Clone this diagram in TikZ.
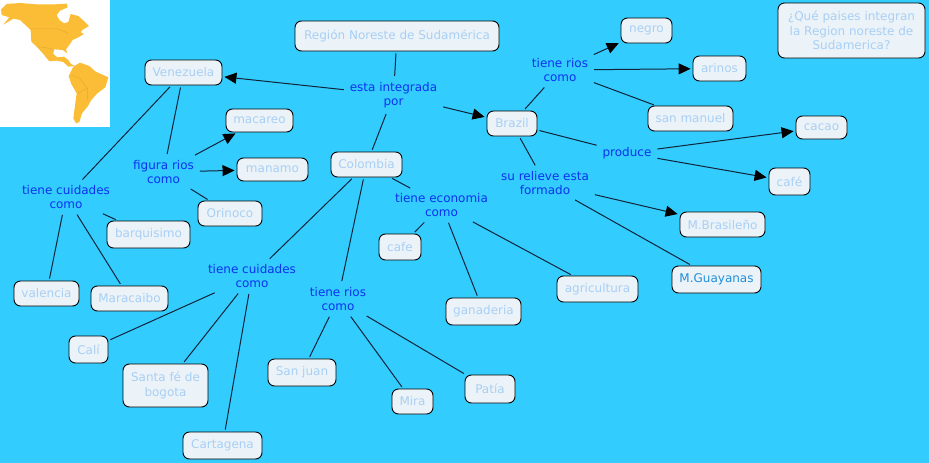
\documentclass[tikz,border=0pt]{standalone}
\usepackage{fontspec}
\setmainfont{DejaVu Sans}
\usetikzlibrary{arrows.meta}
\definecolor{bgblue}{HTML}{33CCFF}
\definecolor{boxfill}{HTML}{EBF3F8}
\definecolor{boxtext}{HTML}{A8CFF5}
\definecolor{linktext}{HTML}{0A32F0}
\definecolor{mapgold}{HTML}{FBBD35}
\definecolor{mapline}{HTML}{E3AA33}
\definecolor{lineblue}{HTML}{10243A}
\definecolor{guayanatext}{HTML}{1F8FDC}
\begin{document}
\begin{tikzpicture}[
    x=1pt, y=-1pt,
    concept/.style={draw=black, line width=0.9pt, rounded corners=6.5pt, fill=boxfill, text=boxtext, align=center, inner sep=0pt, font=\fontsize{12}{14.6}\selectfont},
    linkword/.style={align=center, text=linktext, inner sep=1pt, outer sep=3pt, font=\fontsize{12}{14.6}\selectfont},
    plain/.style={draw=lineblue, line width=1pt, shorten <=2pt, shorten >=2pt},
    arrow/.style={plain, -{Triangle[length=12pt, width=11pt, color=black, fill=black]}}
]
\useasboundingbox (0,0) rectangle (929,463);
\fill[bgblue] (0,0) rectangle (929,463);

% map
\fill[white] (0,0) rectangle (110,127);
\begin{scope}[x=0.3333pt, y=-0.3333pt]
\fill[mapgold] (3,28) -- (12,20) -- (20,12) -- (60,9) -- (110,13) -- (165,13) -- (200,11) -- (203,22) -- (180,32) -- (170,45) -- (178,60) -- (192,70) -- (205,66) -- (212,42) -- (235,48) -- (255,66) -- (267,78) -- (247,90) -- (242,97) -- (252,102) -- (235,112) -- (218,120) -- (208,135) -- (198,148) -- (202,160) -- (188,150) -- (162,148) -- (160,162) -- (172,172) -- (192,170) -- (205,180) -- (213,192) -- (224,198) -- (205,200) -- (190,186) -- (170,182) -- (148,184) -- (130,162) -- (112,142) -- (94,125) -- (92,90) -- (60,60) -- (40,56) -- (10,74) -- (28,52) -- (5,45) -- cycle;
\fill[mapgold] (206,228) -- (220,200) -- (240,188) -- (268,198) -- (287,215) -- (325,232) -- (316,262) -- (292,280) -- (274,300) -- (264,318) -- (246,340) -- (238,366) -- (228,370) -- (220,355) -- (226,310) -- (230,280) -- (214,252) -- cycle;
\draw[mapline, line width=0.5pt] (94,87) -- (175,87) -- (205,100);
\draw[mapline, line width=0.5pt] (115,140) -- (150,145) -- (160,150);
\draw[mapline, line width=0.5pt] (215,225) -- (240,235) -- (262,265) -- (262,300);
\draw[mapline, line width=0.5pt] (232,280) -- (262,265);
\end{scope}

% concepts
\node[concept, minimum width=204pt, minimum height=30pt] (region) at (397,36) {Región Noreste de Sudamérica};
\node[concept, minimum width=77pt, minimum height=25pt] (venezuela) at (183.5,72.5) {Venezuela};
\node[concept, minimum width=71pt, minimum height=25pt] (colombia) at (366.5,164.5) {Colombia};
\node[concept, minimum width=50pt, minimum height=25pt] (brazil) at (512,123.5) {Brazil};
\node[concept, minimum width=147pt, minimum height=55pt] (pregunta) at (851.5,30.5) {¿Qué paises integran\\la Region noreste de\\Sudamerica?};

\node[concept, minimum width=67pt, minimum height=23pt] (macareo) at (259.5,120.5) {macareo};
\node[concept, minimum width=71pt, minimum height=23pt] (manamo) at (272.5,169.5) {manamo};
\node[concept, minimum width=64pt, minimum height=25pt] (orinoco) at (230,213.5) {Orinoco};
\node[concept, minimum width=83pt, minimum height=27pt] (barquisimo) at (148.5,234.5) {barquisimo};
\node[concept, minimum width=65pt, minimum height=25pt] (valencia) at (46.5,293.5) {valencia};
\node[concept, minimum width=77pt, minimum height=25pt] (maracaibo) at (129.5,298.5) {Maracaibo};

\node[concept, minimum width=39pt, minimum height=27pt] (cali) at (88.5,349.5) {Calí};
\node[concept, minimum width=85pt, minimum height=43pt] (santafe) at (165.5,385.5) {Santa fé de\\bogota};
\node[concept, minimum width=79pt, minimum height=27pt] (cartagena) at (222.5,445.5) {Cartagena};
\node[concept, minimum width=68pt, minimum height=27pt] (sanjuan) at (302,372.5) {San juan};
\node[concept, minimum width=41pt, minimum height=25pt] (mira) at (412.5,401.5) {Mira};
\node[concept, minimum width=50pt, minimum height=28pt] (patia) at (490,389) {Patía};
\node[concept, minimum width=42pt, minimum height=26pt] (cafe) at (400,247) {cafe};
\node[concept, minimum width=75pt, minimum height=27pt] (ganaderia) at (483.5,311.5) {ganaderia};
\node[concept, minimum width=81pt, minimum height=26pt] (agricultura) at (597.5,289) {agricultura};

\node[concept, minimum width=51pt, minimum height=25pt] (negro) at (646.5,30.5) {negro};
\node[concept, minimum width=53pt, minimum height=25pt] (arinos) at (719.5,68.5) {arinos};
\node[concept, minimum width=85pt, minimum height=25pt] (sanmanuel) at (690.5,118.5) {san manuel};
\node[concept, minimum width=51pt, minimum height=23pt] (cacao) at (821.5,127.5) {cacao};
\node[concept, minimum width=41pt, minimum height=27pt] (cafebr) at (789.5,181.5) {café};
\node[concept, minimum width=85pt, minimum height=25pt] (brasileno) at (722.5,224.5) {M.Brasileño};
\node[concept, minimum width=89pt, minimum height=27pt, text=guayanatext] (guayanas) at (716.5,279.5) {M.Guayanas};

% linking words
\node[linkword] (integrada) at (393.5,95) {esta integrada\\por};
\node[linkword] (figura) at (163.5,172) {figura rios\\como};
\node[linkword] (cuidadesve) at (66,197) {tiene cuidades\\como};
\node[linkword] (cuidadesco) at (252,276) {tiene cuidades\\como};
\node[linkword] (rioscol) at (338,299) {tiene rios\\como};
\node[linkword] (economia) at (441.5,205) {tiene economia\\como};
\node[linkword] (riosbr) at (560,70) {tiene rios\\como};
\node[linkword] (produce) at (627,153) {produce};
\node[linkword] (relieve) at (545,183) {su relieve esta\\formado};

% connectors
\draw[plain] (region) -- (integrada);
\draw[arrow] (integrada) -- (venezuela);
\draw[plain] (integrada) -- (colombia);
\draw[arrow] (integrada) -- (brazil);

\draw[plain] (venezuela) -- (figura);
\draw[arrow] (figura) -- (macareo);
\draw[arrow] (figura) -- (manamo);
\draw[plain] (figura) -- (orinoco);
\draw[plain] (venezuela) -- (cuidadesve);
\draw[plain] (cuidadesve) -- (barquisimo);
\draw[plain] (cuidadesve) -- (valencia);
\draw[plain] (cuidadesve) -- (maracaibo);

\draw[plain] (colombia) -- (cuidadesco);
\draw[plain] (cuidadesco) -- (cali);
\draw[plain] (cuidadesco) -- (santafe);
\draw[plain] (cuidadesco) -- (cartagena);
\draw[plain] (colombia) -- (rioscol);
\draw[plain] (rioscol) -- (sanjuan);
\draw[plain] (rioscol) -- (mira);
\draw[plain] (rioscol) -- (patia);
\draw[plain] (colombia) -- (economia);
\draw[plain] (economia) -- (cafe);
\draw[plain] (economia) -- (ganaderia);
\draw[plain] (economia) -- (agricultura);

\draw[plain] (brazil) -- (riosbr);
\draw[arrow] (riosbr) -- (negro);
\draw[arrow] (riosbr) -- (arinos);
\draw[plain] (riosbr) -- (sanmanuel);
\draw[plain] (brazil) -- (produce);
\draw[arrow] (produce) -- (cacao);
\draw[arrow] (produce) -- (cafebr);
\draw[plain] (brazil) -- (relieve);
\draw[arrow] (relieve) -- (brasileno);
\draw[plain] (relieve) -- (guayanas);
\end{tikzpicture}
\end{document}
